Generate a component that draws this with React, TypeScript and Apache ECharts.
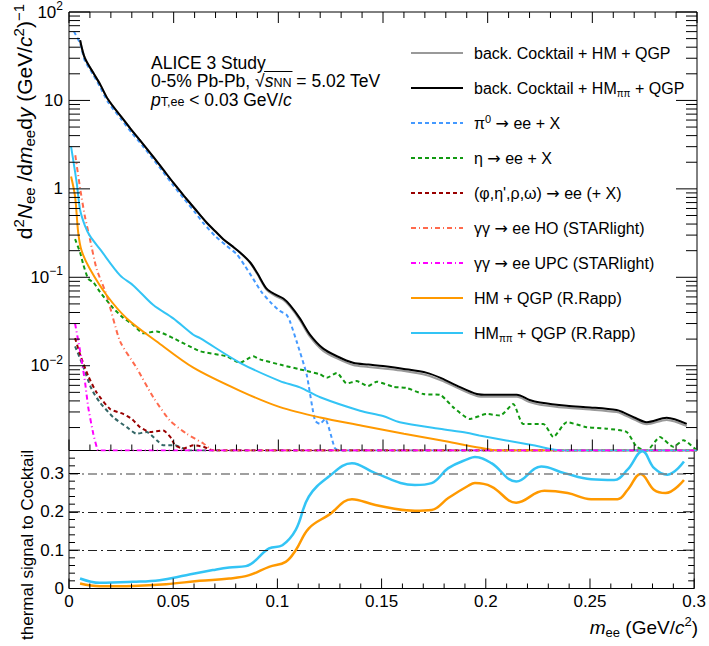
import React, { useEffect, useRef } from 'react';
import * as echarts from 'echarts';

const FONT = '"Liberation Sans", Arial, Helvetica, sans-serif';
const ARROW_FONT = '"DejaVu Sans", sans-serif';

// ---- axis ranges & tick labels ----
const X_MIN = 0;
const X_MAX = 0.3;
const Y_MIN = 1.1e-3;
const Y_MAX = 100;
const R_MIN = 0;
const R_MAX = 0.36;

const X_TICKS = [0, 0.05, 0.1, 0.15, 0.2, 0.25, 0.3];
const X_TICK_LABELS = ['0', '0.05', '0.1', '0.15', '0.2', '0.25', '0.3'];
const LOG_Y_TICKS = [0.01, 0.1, 1, 10, 100];
const LOG_Y_LABELS = ['{b|10}{s|\u22122}', '{b|10}{s|\u22121}', '{b|1}', '{b|10}', '{b|10}{s|2}'];
const R_TICKS = [0, 0.1, 0.2, 0.3];
const R_TICK_LABELS = ['0', '0.1', '0.2', '0.3'];
const R_REF_LINES = [0.1, 0.2, 0.3];

// ---- top panel: d2N/dm dy spectra ----
const cocktailHM: [number, number][] = [
  [0.0053, 48], [0.0076, 30], [0.0116, 20.5], [0.015, 15], [0.0186, 10.3], [0.025, 6.5], [0.03, 4.6],
  [0.035, 3.3], [0.04, 2.35], [0.045, 1.65], [0.05, 1.16], [0.055, 0.83], [0.06, 0.6], [0.0658, 0.414],
  [0.07, 0.33], [0.0737, 0.27], [0.078, 0.224], [0.0817, 0.19], [0.0865, 0.146], [0.09, 0.108],
  [0.0944, 0.072], [0.0985, 0.0618], [0.1024, 0.0553], [0.1056, 0.0465], [0.1103, 0.0328], [0.1151, 0.0213],
  [0.1213, 0.0148], [0.128, 0.0121], [0.1357, 0.0102], [0.143, 0.0097], [0.15, 0.0093], [0.16, 0.0087],
  [0.171, 0.0078], [0.178, 0.0068], [0.185, 0.0057], [0.1948, 0.00455], [0.2, 0.00445], [0.207, 0.00445],
  [0.2139, 0.00445], [0.22, 0.00388], [0.225, 0.00363], [0.2378, 0.00334], [0.2489, 0.0032],
  [0.2616, 0.00299], [0.2648, 0.00281], [0.27, 0.00246], [0.276, 0.00218], [0.2855, 0.00244], [0.2951, 0.00208],
];
const cocktailHMpipi: [number, number][] = [
  [0.0053, 48], [0.0076, 30], [0.0116, 20.5], [0.015, 15], [0.0186, 10.3], [0.025, 6.5], [0.03, 4.6],
  [0.035, 3.3], [0.04, 2.35], [0.045, 1.65], [0.05, 1.16], [0.055, 0.83], [0.06, 0.6], [0.0658, 0.414],
  [0.07, 0.33], [0.0737, 0.27], [0.078, 0.225], [0.0817, 0.191], [0.0865, 0.148], [0.09, 0.111],
  [0.0944, 0.0743], [0.0985, 0.064], [0.1024, 0.0575], [0.1056, 0.0485], [0.1103, 0.0343], [0.1151, 0.0225],
  [0.1213, 0.0157], [0.128, 0.0128], [0.1357, 0.0108], [0.143, 0.0103], [0.15, 0.0099], [0.16, 0.0092],
  [0.171, 0.0083], [0.178, 0.0072], [0.185, 0.006], [0.1948, 0.0048], [0.2, 0.0047], [0.207, 0.0047],
  [0.2139, 0.0047], [0.22, 0.0041], [0.225, 0.00384], [0.2378, 0.00353], [0.2489, 0.00338],
  [0.2616, 0.00316], [0.2648, 0.00297], [0.27, 0.0026], [0.276, 0.0023], [0.2855, 0.00258], [0.2951, 0.0022],
];
const pi0Decay: [number, number][] = [
  [0.0024, 60], [0.0053, 44], [0.0076, 28], [0.0116, 19.5], [0.015, 14], [0.0186, 9.6], [0.025, 6.1],
  [0.03, 4.3], [0.035, 3.1], [0.04, 2.2], [0.045, 1.55], [0.05, 1.08], [0.055, 0.77], [0.06, 0.55],
  [0.0642, 0.41], [0.07, 0.29], [0.075, 0.23], [0.0801, 0.183], [0.084, 0.135], [0.088, 0.096],
  [0.092, 0.068], [0.0968, 0.0506], [0.1005, 0.042], [0.104, 0.0375], [0.1056, 0.0315], [0.109, 0.018],
  [0.1135, 0.008], [0.1175, 0.0024], [0.1199, 0.0022], [0.1223, 0.0025], [0.127, 0.00117], [0.129, Y_MIN],
  [0.3, Y_MIN],
];
const etaDecay: [number, number][] = [
  [0.0029, 0.27], [0.0053, 0.191], [0.0068, 0.14], [0.0092, 0.096], [0.0116, 0.088], [0.0148, 0.0683],
  [0.0212, 0.0445], [0.0258, 0.035], [0.0307, 0.029], [0.0355, 0.0233], [0.0419, 0.0244], [0.0498, 0.0205],
  [0.0626, 0.0146], [0.0753, 0.0128], [0.0817, 0.0108], [0.088, 0.0128], [0.0912, 0.0118], [0.1008, 0.0103],
  [0.1103, 0.0091], [0.1199, 0.008], [0.1231, 0.0073], [0.1279, 0.0083], [0.1327, 0.0063], [0.1374, 0.0067],
  [0.1428, 0.0059], [0.147, 0.0066], [0.155, 0.00577], [0.1613, 0.0056], [0.1693, 0.00478], [0.1772, 0.00469],
  [0.1836, 0.00338], [0.1916, 0.0025], [0.1995, 0.00285], [0.2059, 0.00273], [0.2122, 0.00369], [0.217, 0.0022],
  [0.2266, 0.0022], [0.2314, 0.00156], [0.2378, 0.0023], [0.2473, 0.00202], [0.2569, 0.00194], [0.2664, 0.00178],
  [0.2712, 0.00121], [0.276, Y_MIN], [0.2823, 0.00156], [0.2887, 0.00121], [0.2935, 0.00144], [0.2999, Y_MIN],
];
const vectorDecay: [number, number][] = [
  [0.0029, 0.0205], [0.0053, 0.0134], [0.0092, 0.00765], [0.0132, 0.00498], [0.0196, 0.00324], [0.0259, 0.00285],
  [0.03, 0.0025], [0.0339, 0.00202], [0.0387, 0.00178], [0.045, 0.00185], [0.049, 0.0015], [0.0506, 0.00126],
  [0.0546, 0.00116], [0.0594, 0.00126], [0.0642, 0.00121], [0.069, Y_MIN], [0.3, Y_MIN],
];
const otherDecay: [number, number][] = [
  [0.0029, 0.0166], [0.0061, 0.0108], [0.0108, 0.00543], [0.0148, 0.00384], [0.0212, 0.00261], [0.0276, 0.00202],
  [0.0323, 0.0017], [0.0371, 0.00178], [0.0419, 0.00144], [0.045, 0.00126], [0.0506, 0.00126], [0.0546, 0.00116],
  [0.057, Y_MIN], [0.3, Y_MIN],
];
const ggHO: [number, number][] = [
  [0.003, 2.4], [0.0053, 1.02], [0.0075, 0.5], [0.01, 0.27], [0.0132, 0.124], [0.018, 0.0627], [0.0244, 0.0188],
  [0.0323, 0.00946], [0.0403, 0.00438], [0.0482, 0.0024], [0.0562, 0.0017], [0.0642, 0.00132], [0.069, Y_MIN],
  [0.3, Y_MIN],
];
const ggUPC: [number, number][] = [
  [0.0029, 0.03], [0.0053, 0.0146], [0.0076, 0.0067], [0.0092, 0.00338], [0.0116, 0.0017], [0.0132, 0.00121],
  [0.014, Y_MIN], [0.3, Y_MIN],
];
const hmQgp: [number, number][] = [
  [0.001, 1.38], [0.0029, 0.82], [0.0044, 0.32], [0.006, 0.2], [0.01, 0.124], [0.018, 0.0627], [0.0276, 0.0343],
  [0.0419, 0.0188], [0.0594, 0.0095], [0.0817, 0.0052], [0.1008, 0.0034], [0.12, 0.0026], [0.14, 0.0021],
  [0.16, 0.0017], [0.18, 0.0014], [0.1963, 0.00118], [0.205, Y_MIN], [0.3, Y_MIN],
];
const hmPipiQgp: [number, number][] = [
  [0.001, 3.0], [0.0037, 1.16], [0.0053, 0.58], [0.0075, 0.39], [0.01, 0.294], [0.0148, 0.208], [0.0244, 0.105],
  [0.0307, 0.081], [0.0403, 0.0485], [0.0498, 0.0343], [0.0594, 0.0224], [0.0626, 0.0205], [0.0817, 0.0108],
  [0.1008, 0.0067], [0.1103, 0.0057], [0.12, 0.0044], [0.139, 0.0031], [0.15, 0.0027], [0.158, 0.0023],
  [0.177, 0.00194], [0.19, 0.00175], [0.196, 0.00163], [0.2218, 0.00126], [0.236, Y_MIN], [0.3, Y_MIN],
];

// ---- bottom panel: thermal signal / cocktail ----
const ratioHM: [number, number][] = [
  [0.0053, 0.0131], [0.0148, 0.006], [0.0307, 0.0068], [0.0466, 0.0113], [0.0626, 0.02], [0.0769, 0.026],
  [0.0865, 0.0348], [0.096, 0.0565], [0.104, 0.0696], [0.1088, 0.1], [0.1151, 0.157], [0.1247, 0.192],
  [0.1358, 0.233], [0.147, 0.218], [0.166, 0.203], [0.174, 0.205], [0.182, 0.236], [0.1916, 0.268],
  [0.1948, 0.275], [0.2027, 0.266], [0.2146, 0.224], [0.2281, 0.255], [0.2393, 0.249], [0.2505, 0.233],
  [0.2632, 0.233], [0.268, 0.257], [0.2743, 0.299], [0.2808, 0.257], [0.2863, 0.249], [0.2951, 0.283],
];
const ratioHMpipi: [number, number][] = [
  [0.0053, 0.026], [0.0148, 0.0147], [0.0307, 0.0173], [0.0435, 0.0217], [0.0562, 0.0348], [0.069, 0.048],
  [0.0769, 0.055], [0.0849, 0.0584], [0.096, 0.1047], [0.1024, 0.113], [0.1088, 0.153], [0.1151, 0.24],
  [0.1247, 0.292], [0.1358, 0.327], [0.147, 0.301], [0.166, 0.27], [0.174, 0.275], [0.182, 0.314],
  [0.1916, 0.338], [0.1948, 0.343], [0.2027, 0.327], [0.2146, 0.279], [0.2266, 0.318], [0.2378, 0.301],
  [0.2505, 0.285], [0.2616, 0.283], [0.268, 0.31], [0.2752, 0.358], [0.2808, 0.314], [0.2871, 0.297],
  [0.2951, 0.331],
];

const N_GRAY = 'cocktailHM';
const N_BLACK = 'cocktailHMpipi';
const N_PI0 = 'pi0';
const N_ETA = 'eta';
const N_VEC = 'vec';
const N_HO = 'ggHO';
const N_UPC = 'ggUPC';
const N_HM = 'hmQgp';
const N_HMPP = 'hmPipiQgp';
const LEGEND_ORDER = [N_GRAY, N_BLACK, N_PI0, N_ETA, N_VEC, N_HO, N_UPC, N_HM, N_HMPP];
const LEGEND_TEXT: Record<string, string> = {
  [N_GRAY]: '{n|back. Cocktail + HM + QGP}',
  [N_BLACK]: '{n|back. Cocktail + HM}{d|\u03c0\u03c0}{n| + QGP}',
  [N_PI0]: '{n|\u03c0}{u|0}{n| }{a|\u2192}{n| ee + X}',
  [N_ETA]: '{n|\u03b7 }{a|\u2192}{n| ee + X}',
  [N_VEC]: "{n|(\u03c6,\u03b7',\u03c1,\u03c9) }{a|\u2192}{n| ee (+ X)}",
  [N_HO]: '{n|\u03b3\u03b3 }{a|\u2192}{n| ee HO (STARlight)}',
  [N_UPC]: '{n|\u03b3\u03b3 }{a|\u2192}{n| ee UPC (STARlight)}',
  [N_HM]: '{n|HM + QGP (R.Rapp)}',
  [N_HMPP]: '{n|HM}{d|\u03c0\u03c0}{n| + QGP (R.Rapp)}',
};

const SQRT_PRE = '0-5% Pb-Pb, \u221a';

function buildTicks() {
  const top: number[][] = [];
  LOG_Y_TICKS.forEach((v) => top.push([X_MIN, v, 0, 21]));
  for (let d = -3; d <= 1; d++) {
    for (let m = 2; m <= 9; m++) {
      const v = m * Math.pow(10, d);
      if (v > Y_MIN && v < Y_MAX) top.push([X_MIN, v, 0, 11]);
    }
  }
  const bottom: number[][] = [];
  R_TICKS.forEach((v) => bottom.push([X_MIN, v, 0, 11]));
  for (let i = 1; i <= 17; i++) {
    if (i % 5 !== 0) bottom.push([X_MIN, +(i * 0.02).toFixed(2), 0, 6]);
  }
  X_TICKS.forEach((v) => {
    top.push([v, Y_MIN, 1, 11]);
    bottom.push([v, R_MIN, 2, 10]);
  });
  for (let i = 1; i < 30; i++) {
    if (i % 5 !== 0) {
      const v = +(i * 0.01).toFixed(2);
      top.push([v, Y_MIN, 1, 6]);
      bottom.push([v, R_MIN, 2, 5]);
    }
  }
  return { top, bottom };
}

const tickRender = (params: any, api: any) => {
  const xv = api.value(0);
  const yv = api.value(1);
  const kind = api.value(2);
  const len = api.value(3);
  const cs = params.coordSys;
  const style = { stroke: '#000', lineWidth: 1 };
  const children: any[] = [];
  const p = api.coord([xv, yv]);
  if (kind === 0) {
    children.push({ type: 'line', shape: { x1: cs.x, y1: p[1], x2: cs.x + len, y2: p[1] }, style });
    children.push({ type: 'line', shape: { x1: cs.x + cs.width, y1: p[1], x2: cs.x + cs.width - len, y2: p[1] }, style });
  } else {
    children.push({ type: 'line', shape: { x1: p[0], y1: cs.y + cs.height, x2: p[0], y2: cs.y + cs.height - len }, style });
    if (kind === 1) children.push({ type: 'line', shape: { x1: p[0], y1: cs.y, x2: p[0], y2: cs.y + len }, style });
  }
  return { type: 'group', children };
};

function measure(txt: string, font: string, fallbackPerChar: number) {
  const c = document.createElement('canvas').getContext('2d');
  if (!c) return txt.length * fallbackPerChar;
  c.font = font;
  return c.measureText(txt).width;
}

export default function App() {
  const ref = useRef<HTMLDivElement>(null);
  useEffect(() => {
    document.body.style.margin = '0';
    const chart = echarts.init(ref.current!, null, { renderer: 'svg' });
    const ticks = buildTicks();

    const line = (name: string, data: [number, number][], color: string, width: number, type: any, smooth: number, z = 2) => ({
      type: 'line', name, data, xAxisIndex: 0, yAxisIndex: 0, showSymbol: false, symbol: 'none', smooth, clip: true, z,
      lineStyle: { color, width, type, cap: 'butt' }, itemStyle: { color }, emphasis: { disabled: true },
    });

    const TS = 17.5; // info text font size
    const SS = 12.5; // info text subscript size
    const tx = 151;
    const wPre = measure(SQRT_PRE, `${TS}px ${FONT}`, 9);
    const wS = measure('s', `italic ${TS}px ${FONT}`, 9);
    const wNN = measure('NN', `${SS}px ${FONT}`, 9);
    const sqrtX = tx + wPre;

    const textRich = {
      n: { fontSize: TS, fontFamily: FONT, fill: '#000', lineHeight: 17 },
      i: { fontSize: TS, fontFamily: FONT, fontStyle: 'italic', fill: '#000', lineHeight: 17 },
      d: { fontSize: SS, fontFamily: FONT, fill: '#000', lineHeight: 11, verticalAlign: 'bottom' },
    };
    const titleRich = {
      m: { fontSize: 21, fontFamily: FONT, fill: '#000', lineHeight: 26 },
      i: { fontSize: 21, fontFamily: FONT, fontStyle: 'italic', fill: '#000', lineHeight: 26 },
      u: { fontSize: 15, fontFamily: FONT, fill: '#000', lineHeight: 15, verticalAlign: 'top' },
      d: { fontSize: 15, fontFamily: FONT, fill: '#000', lineHeight: 15, verticalAlign: 'bottom' },
    };
    const xTitleRich = {
      m: { fontSize: 19, fontFamily: FONT, fill: '#000', lineHeight: 24 },
      i: { fontSize: 19, fontFamily: FONT, fontStyle: 'italic', fill: '#000', lineHeight: 24 },
      u: { fontSize: 13, fontFamily: FONT, fill: '#000', lineHeight: 13, verticalAlign: 'top' },
      d: { fontSize: 13, fontFamily: FONT, fill: '#000', lineHeight: 13, verticalAlign: 'bottom' },
    };

    const option: any = {
      animation: false,
      backgroundColor: '#fff',
      textStyle: { fontFamily: FONT },
      grid: [
        { left: 69, top: 7, width: 628, height: 443.5, show: true, borderColor: '#000', borderWidth: 1, backgroundColor: 'transparent' },
        { left: 69, top: 450.5, width: 628, height: 138, show: true, borderColor: '#000', borderWidth: 1, backgroundColor: 'transparent' },
      ],
      xAxis: [
        { gridIndex: 0, type: 'value', min: X_MIN, max: X_MAX, interval: 0.05, axisLabel: { show: false }, axisTick: { show: false }, axisLine: { show: false }, splitLine: { show: false } },
        {
          gridIndex: 1, type: 'value', min: X_MIN, max: X_MAX, interval: 0.05, axisTick: { show: false }, axisLine: { show: false }, splitLine: { show: false },
          axisLabel: {
            show: true, fontSize: 17, color: '#000', fontFamily: FONT, margin: 4,
            formatter: (v: number) => {
              const i = X_TICKS.findIndex((t) => Math.abs(t - v) < 1e-9);
              return i >= 0 ? X_TICK_LABELS[i] : '';
            },
          },
        },
      ],
      yAxis: [
        {
          gridIndex: 0, type: 'log', logBase: 10, min: Y_MIN, max: Y_MAX, axisTick: { show: false }, axisLine: { show: false }, splitLine: { show: false }, minorTick: { show: false },
          axisLabel: {
            show: true, margin: 6, color: '#000', fontFamily: FONT,
            formatter: (v: number) => {
              const i = LOG_Y_TICKS.findIndex((t) => Math.abs(Math.log10(t) - Math.log10(v)) < 1e-6);
              return i >= 0 ? LOG_Y_LABELS[i] : '';
            },
            rich: {
              b: { fontSize: 17, lineHeight: 24, color: '#000', fontFamily: FONT },
              s: { fontSize: 12, lineHeight: 12, verticalAlign: 'top', color: '#000', fontFamily: FONT },
            },
          },
        },
        {
          gridIndex: 1, type: 'value', min: R_MIN, max: R_MAX, interval: 0.1, axisTick: { show: false }, axisLine: { show: false }, splitLine: { show: false },
          axisLabel: {
            show: true, margin: 5, fontSize: 17, color: '#000', fontFamily: FONT,
            formatter: (v: number) => {
              const i = R_TICKS.findIndex((t) => Math.abs(t - v) < 1e-9);
              return i >= 0 ? R_TICK_LABELS[i] : '';
            },
          },
        },
      ],
      legend: {
        data: LEGEND_ORDER,
        orient: 'vertical',
        left: 410,
        top: 43,
        padding: 0,
        itemWidth: 52,
        itemHeight: 14,
        itemGap: 15,
        selectedMode: false,
        itemStyle: { opacity: 0 },
        formatter: (name: string) => LEGEND_TEXT[name] || name,
        textStyle: {
          color: '#000', fontFamily: FONT, fontSize: 16, lineHeight: 20, padding: [0, 0, 0, 6],
          rich: {
            n: { fontSize: 16, lineHeight: 20, color: '#000', fontFamily: FONT },
            a: { fontSize: 16, lineHeight: 20, color: '#000', fontFamily: ARROW_FONT },
            d: { fontSize: 10, lineHeight: 10, verticalAlign: 'bottom', color: '#000', fontFamily: FONT },
            u: { fontSize: 11, lineHeight: 11, verticalAlign: 'top', color: '#000', fontFamily: FONT },
          },
        },
      },
      series: [
        line(N_PI0, pi0Decay, '#4499ff', 2, [4, 3], 0.2),
        line(N_ETA, etaDecay, '#119911', 2, [4, 3], 0.2),
        line('other', otherDecay, '#336666', 2, [4, 3], 0.2),
        line(N_VEC, vectorDecay, '#990000', 2, [4, 3], 0.2),
        line(N_HO, ggHO, '#ff6a4d', 2, [5, 3, 1, 3], 0.2),
        line(N_HM, hmQgp, '#ff9900', 2, 'solid', 0.3),
        line(N_HMPP, hmPipiQgp, '#33c4f5', 2, 'solid', 0.3),
        line(N_GRAY, cocktailHM, '#999999', 2, 'solid', 0.3),
        line(N_BLACK, cocktailHMpipi, '#000000', 2, 'solid', 0.3),
        line(N_UPC, ggUPC, '#ff00ff', 2, [5, 3, 1, 3], 0.2),
        {
          type: 'line', name: 'ratioHM', data: ratioHM, xAxisIndex: 1, yAxisIndex: 1, showSymbol: false, symbol: 'none', smooth: 0.4, clip: true,
          lineStyle: { color: '#ff9900', width: 2.5 }, emphasis: { disabled: true },
          markLine: {
            silent: true, symbol: ['none', 'none'], label: { show: false }, animation: false,
            data: R_REF_LINES.map((v) => ({ yAxis: v, lineStyle: { color: v > 0.25 ? '#808080' : '#222', width: v > 0.25 ? 1.5 : 1, type: [9, 4, 2, 4] } })),
          },
        },
        {
          type: 'line', name: 'ratioHMpipi', data: ratioHMpipi, xAxisIndex: 1, yAxisIndex: 1, showSymbol: false, symbol: 'none', smooth: 0.4, clip: false,
          lineStyle: { color: '#33c4f5', width: 2.5 }, emphasis: { disabled: true },
        },
        { type: 'custom', name: 'ticksTop', xAxisIndex: 0, yAxisIndex: 0, data: ticks.top, dimensions: ['x', 'y', 'k', 'l'], encode: { x: 0, y: 1 }, renderItem: tickRender, silent: true, clip: false, z: 10 },
        { type: 'custom', name: 'ticksBottom', xAxisIndex: 1, yAxisIndex: 1, data: ticks.bottom, dimensions: ['x', 'y', 'k', 'l'], encode: { x: 0, y: 1 }, renderItem: tickRender, silent: true, clip: false, z: 10 },
      ],
      graphic: [
        { id: 'ytitle', type: 'text', x: 24, y: 4, rotation: Math.PI / 2, style: { text: '{m|d}{u|2}{i|N}{d|ee}{m| /d}{i|m}{d|ee}{m|d}{i|y}{m| (GeV/}{i|c}{u|2}{m|)}{u|\u22121}', align: 'right', verticalAlign: 'middle', rich: titleRich } },
        { id: 'rtitle', type: 'text', x: 27, y: 450, rotation: Math.PI / 2, style: { text: 'thermal signal to Cocktail', font: `17px ${FONT}`, fill: '#000', align: 'right', verticalAlign: 'middle' } },
        { id: 'xtitle', type: 'text', x: 698, y: 627, style: { text: '{i|m}{d|ee}{m| (GeV/}{i|c}{u|2}{m|)}', align: 'right', verticalAlign: 'middle', rich: xTitleRich } },
        { id: 'info1', type: 'text', x: tx, y: 62.5, style: { text: '{n|ALICE 3 Study}', align: 'left', verticalAlign: 'middle', rich: textRich } },
        { id: 'info2', type: 'text', x: tx, y: 81, style: { text: `{n|${SQRT_PRE}}{i|s}{d|NN}{n| = 5.02 TeV}`, align: 'left', verticalAlign: 'middle', rich: textRich } },
        { id: 'sqrtbar', type: 'line', shape: { x1: sqrtX - 1, y1: 71.5, x2: sqrtX + wS + wNN + 1, y2: 71.5 }, style: { stroke: '#000', lineWidth: 1 } },
        { id: 'info3', type: 'text', x: tx, y: 100, style: { text: '{i|p}{d|T,ee}{n| < 0.03 GeV/}{i|c}', align: 'left', verticalAlign: 'middle', rich: textRich } },
      ],
    };
    chart.setOption(option);

    // place the radical's bar over the rendered "s_NN" glyphs
    try {
      const zr: any = (chart as any).getZr();
      if (zr && zr.flush) zr.flush();
      const root = ref.current!;
      const base = root.getBoundingClientRect();
      const texts = Array.from(root.querySelectorAll('text')) as SVGTextElement[];
      const pre = texts.find((t) => t.textContent === SQRT_PRE);
      const nn = texts.find((t) => t.textContent === 'NN');
      if (pre && nn) {
        const r1 = pre.getBoundingClientRect();
        const r2 = nn.getBoundingClientRect();
        if (r1.width > 0 && r2.width > 0) {
          chart.setOption({
            graphic: [{ id: 'sqrtbar', type: 'line', shape: { x1: r1.right - base.left - 1, y1: 71.5, x2: r2.right - base.left + 1, y2: 71.5 } }],
          });
        }
      }
    } catch (e) {
      /* keep measured fallback */
    }
    return () => chart.dispose();
  }, []);
  return <div ref={ref} style={{ position: 'absolute', left: 0, top: 0, width: 709, height: 646, background: '#fff' }} />;
}
